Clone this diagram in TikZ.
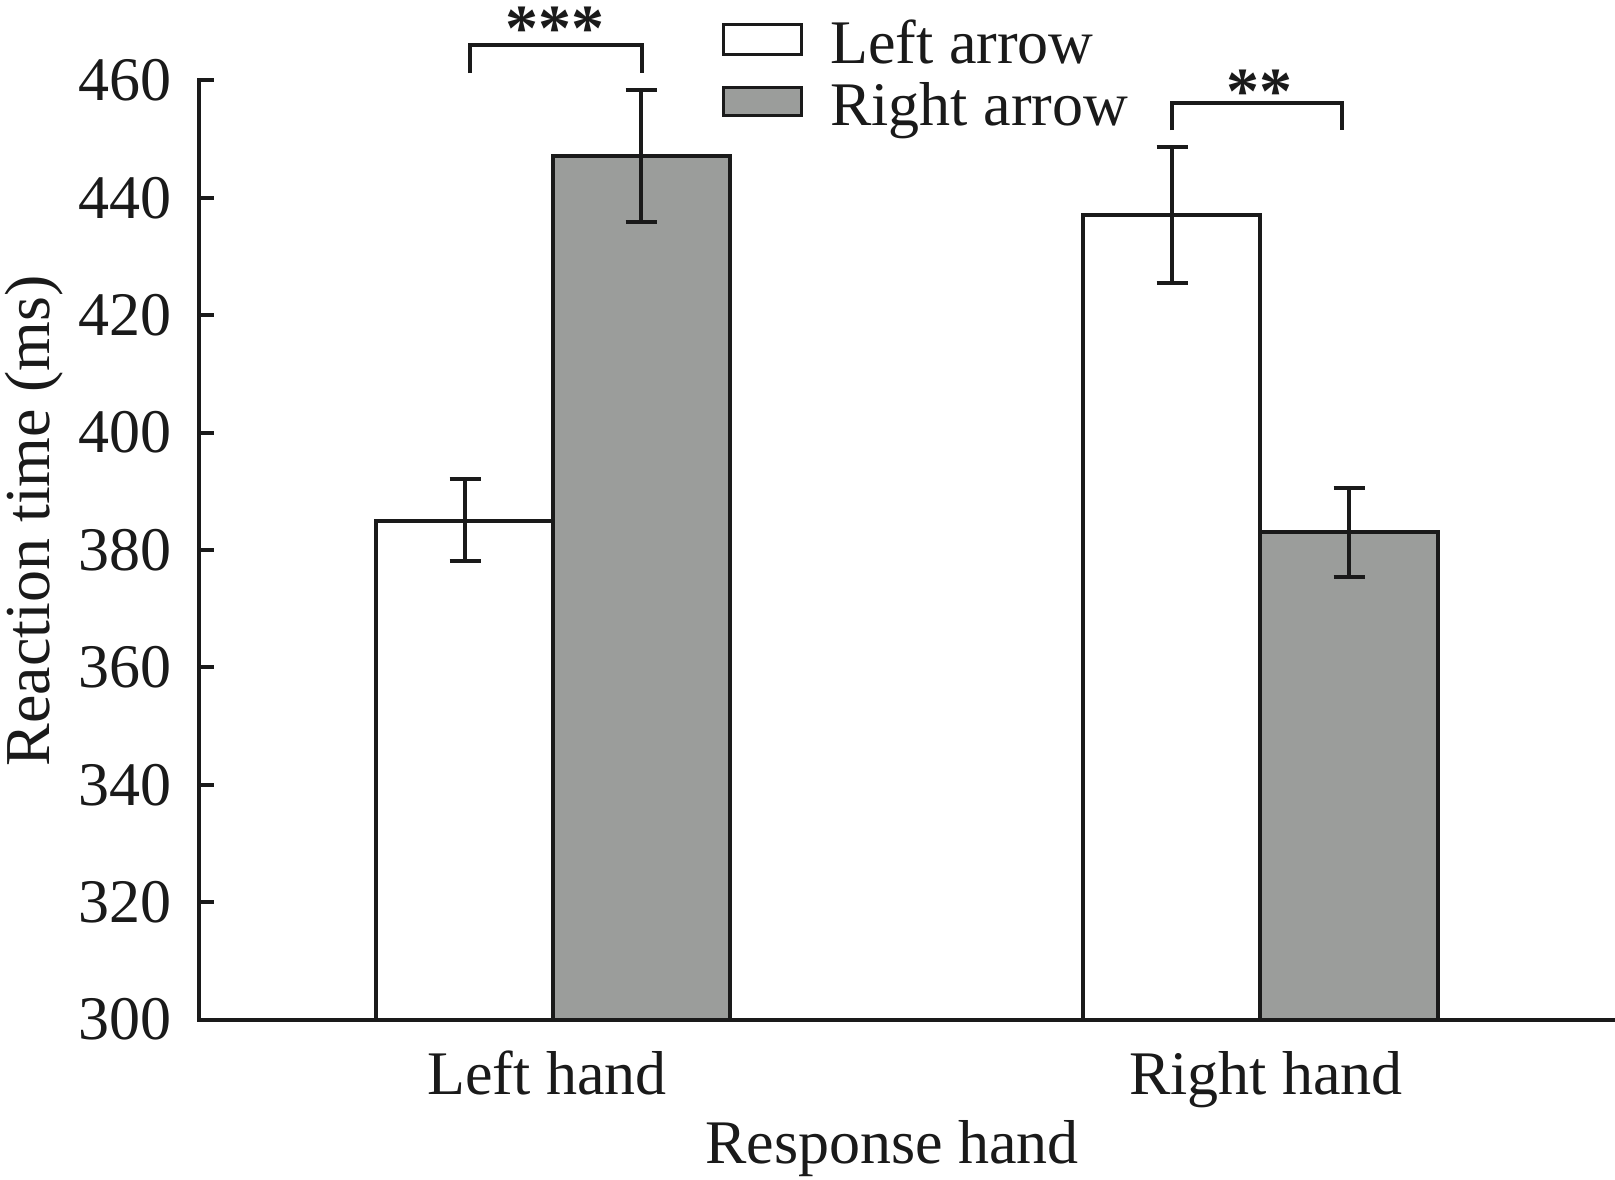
\documentclass[tikz,border=0pt]{standalone}
\usepackage{fontspec}
\setmainfont{Liberation Serif}
\definecolor{barGray}{RGB}{155,157,155}
\definecolor{ink}{RGB}{26,26,26}
\begin{document}
\begin{tikzpicture}[x=1pt,y=-1pt,
  lw/.style={line width=4pt,draw=ink},
  barW/.style={lw,fill=white},
  barG/.style={lw,fill=barGray},
  errbar/.style={line width=4.5pt,draw=ink},
  txt/.style={font=\fontsize{62}{70}\selectfont,text=ink,inner sep=0pt},
  star/.style={font=\fontsize{66}{70}\selectfont\bfseries,text=ink,inner sep=0pt,anchor=base},
  ticklab/.style={txt,anchor=east}]
\useasboundingbox (0,0) rectangle (1615,1179);
% bars
\draw[barW] (376,1020) rectangle (553,520.5);
\draw[barG] (553,1020) rectangle (730,156);
\draw[barW] (1083,1020) rectangle (1260,215);
\draw[barG] (1260,1020) rectangle (1438,532);
% axes
\draw[lw,line cap=rect] (199,80.4) -- (199,1020) -- (1615,1020);
\foreach \k/\lab in {0/460,1/440,2/420,3/400,4/380,5/360,6/340,7/320,8/300}{
  \pgfmathsetmacro{\yy}{80.4+\k*117.4}
  \draw[lw] (199,\yy) -- (214,\yy);
  \node[ticklab] (t\lab) at (172,\yy) {\lab};
}
% error bars
\foreach \x/\a/\b in {465/479/561, 641/90/222, 1172/147/283, 1349/488/577}{
  \draw[errbar] (\x,\a) -- (\x,\b);
  \draw[errbar] (\x-15.5,\a) -- (\x+15.5,\a);
  \draw[errbar] (\x-15.5,\b) -- (\x+15.5,\b);
}
% significance brackets
\draw[lw] (470,73) -- (470,45) -- (642,45) -- (642,73);
\node[star] (s1) at (555,50) {***};
\draw[lw] (1172,130) -- (1172,103) -- (1342,103) -- (1342,130);
\node[star] (s2) at (1259,113) {**};
% legend
\draw[line width=3pt,draw=ink,fill=white] (723,24) rectangle (801,54);
\draw[line width=3pt,draw=ink,fill=barGray] (723,87) rectangle (801,115);
\node[txt,anchor=base west] (l1) at (830,63) {Left arrow};
\node[txt,anchor=base west] (l2) at (830,125) {Right arrow};
% axis labels
\node[txt,anchor=base] (xl1) at (547,1094) {Left hand};
\node[txt,anchor=base] (xl2) at (1266,1094) {Right hand};
\node[txt,anchor=base] (xt) at (892,1163) {Response hand};
\node[txt,anchor=base,rotate=90,font=\fontsize{64}{70}\selectfont] (yt) at (49,521) {Reaction time (ms)};
\end{tikzpicture}
\end{document}
